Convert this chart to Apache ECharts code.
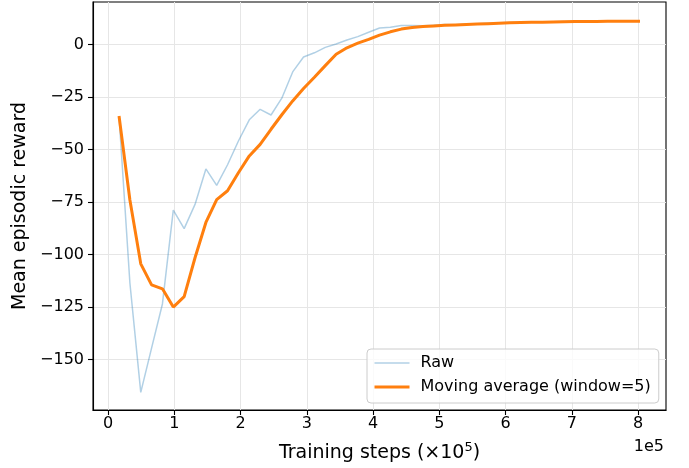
<!DOCTYPE html>
<html>
<head>
<meta charset="utf-8">
<script src="https://cdn.jsdelivr.net/npm/echarts@6/dist/echarts.min.js"></script>
<style>
html,body{margin:0;padding:0;background:#fff;}
#chart{width:689px;height:468px;}
</style>
</head>
<body>
<div id="chart"></div>
<script>
// Training steps in units of 1e5
var steps = [0.164, 0.328, 0.492, 0.655, 0.819, 0.983, 1.147, 1.311, 1.475, 1.638,
  1.802, 1.966, 2.130, 2.294, 2.458, 2.621, 2.785, 2.949, 3.113, 3.277,
  3.441, 3.604, 3.768, 3.932, 4.096, 4.260, 4.424, 4.588, 4.751, 4.915,
  5.079, 5.243, 5.407, 5.571, 5.734, 5.898, 6.062, 6.226, 6.390, 6.554,
  6.717, 6.881, 7.045, 7.209, 7.373, 7.537, 7.700, 7.864, 8.028];

var rawReward = [-34.0, -113.5, -165.6, -144.5, -123.5, -78.8, -87.6, -76.1, -59.2, -67.0,
  -57.2, -45.9, -35.8, -30.8, -33.5, -25.5, -13.0, -5.9, -3.9, -1.3,
  0.3, 2.2, 3.8, 5.9, 7.9, 8.3, 9.1, 9.1, 9.0, 9.2,
  9.6, 9.5, 9.8, 10.0, 10.2, 10.4, 10.5, 10.6, 10.8, 10.9,
  10.9, 11.0, 11.0, 11.1, 11.1, 11.1, 11.2, 11.1, 11.2];

var movingAvg = [-34.0, -74.0, -104.4, -114.4, -116.3, -125.0, -120.0, -101.5, -84.7, -73.8,
  -69.6, -61.0, -53.0, -47.5, -40.3, -33.4, -26.8, -20.9, -15.5, -10.0,
  -4.6, -1.5, 0.7, 2.5, 4.5, 6.1, 7.4, 8.2, 8.6, 8.9,
  9.2, 9.4, 9.6, 9.8, 10.0, 10.2, 10.4, 10.5, 10.6, 10.7,
  10.8, 10.9, 11.0, 11.0, 11.0, 11.1, 11.1, 11.1, 11.1];

var xTicks = [0, 1, 2, 3, 4, 5, 6, 7, 8];
var yTicks = [-150, -125, -100, -75, -50, -25, 0];

var seriesNames = ['Raw', 'Moving average (window=5)'];

function pairs(xs, ys) {
  var out = [];
  for (var i = 0; i < xs.length; i++) out.push([xs[i], ys[i]]);
  return out;
}

var FONT = 'DejaVu Sans';
var RAW_COLOR = 'rgba(31,119,180,0.35)';
var MA_COLOR = '#ff7f0e';
var chart = echarts.init(document.getElementById('chart'), null, {renderer: 'canvas'});

chart.setOption({
  animation: false,
  backgroundColor: '#ffffff',
  textStyle: {fontFamily: FONT},
  grid: {
    left: 93, right: 23, top: 2, bottom: 58,
    show: true, borderColor: '#000', borderWidth: 1.1, backgroundColor: 'transparent'
  },
  xAxis: {
    type: 'value',
    min: -0.229, max: 8.42,
    axisLine: {show: true, onZero: false, lineStyle: {color: '#000', width: 1.1}},
    axisTick: {show: true, length: 5, inside: false, customValues: xTicks, lineStyle: {color: '#000', width: 1.1}},
    axisLabel: {customValues: xTicks, color: '#000', fontSize: 16, fontFamily: FONT, margin: 6,
      formatter: function (v) { return String(v); }},
    splitLine: {show: true, lineStyle: {color: '#e6e6e6', width: 1}},
    name: '{a|Training steps (×10}{s|5}{a|)}',
    nameLocation: 'middle',
    nameGap: 31,
    nameTextStyle: {
      rich: {
        a: {fontSize: 19, fontFamily: FONT, color: '#000'},
        s: {fontSize: 13, fontFamily: FONT, color: '#000', padding: [0, 0, 12, 0]}
      }
    }
  },
  yAxis: {
    type: 'value',
    min: -174, max: 20.3,
    axisLine: {show: true, onZero: false, lineStyle: {color: '#000', width: 1.1}},
    axisTick: {show: true, length: 5, inside: false, customValues: yTicks, lineStyle: {color: '#000', width: 1.1}},
    axisLabel: {customValues: yTicks, color: '#000', fontSize: 16, fontFamily: FONT, margin: 9,
      formatter: function (v) { return String(v).replace('-', '\u2212'); }},
    splitLine: {show: true, lineStyle: {color: '#e6e6e6', width: 1}},
    name: 'Mean episodic reward',
    nameLocation: 'middle',
    nameGap: 53,
    nameRotate: 90,
    nameTextStyle: {fontSize: 19, fontFamily: FONT, color: '#000'}
  },
  legend: {
    orient: 'vertical',
    left: 367, top: 349,
    padding: [6, 8, 8, 6],
    itemGap: 8,
    itemWidth: 35,
    itemHeight: 14,
    backgroundColor: 'rgba(255,255,255,0.8)',
    borderColor: '#cccccc',
    borderWidth: 1,
    borderRadius: 4,
    itemStyle: {opacity: 0},
    textStyle: {fontSize: 16, fontFamily: FONT, color: '#000', padding: [0, 0, 0, 6]},
    data: [
      {name: seriesNames[0], lineStyle: {color: RAW_COLOR, width: 1.5}},
      {name: seriesNames[1], lineStyle: {color: MA_COLOR, width: 3}}
    ]
  },
  graphic: [{
    type: 'text',
    right: 25, top: 439,
    style: {text: '1e5', font: '16px "DejaVu Sans"', fill: '#000'}
  }],
  series: [{
    name: seriesNames[0],
    type: 'line',
    data: pairs(steps, rawReward),
    showSymbol: false,
    symbol: 'none',
    lineStyle: {color: RAW_COLOR, width: 1.5},
    itemStyle: {color: RAW_COLOR},
    z: 2
  }, {
    name: seriesNames[1],
    type: 'line',
    data: pairs(steps, movingAvg),
    showSymbol: false,
    symbol: 'none',
    lineStyle: {color: MA_COLOR, width: 3},
    itemStyle: {color: MA_COLOR},
    z: 3
  }]
});
</script>
</body>
</html>
